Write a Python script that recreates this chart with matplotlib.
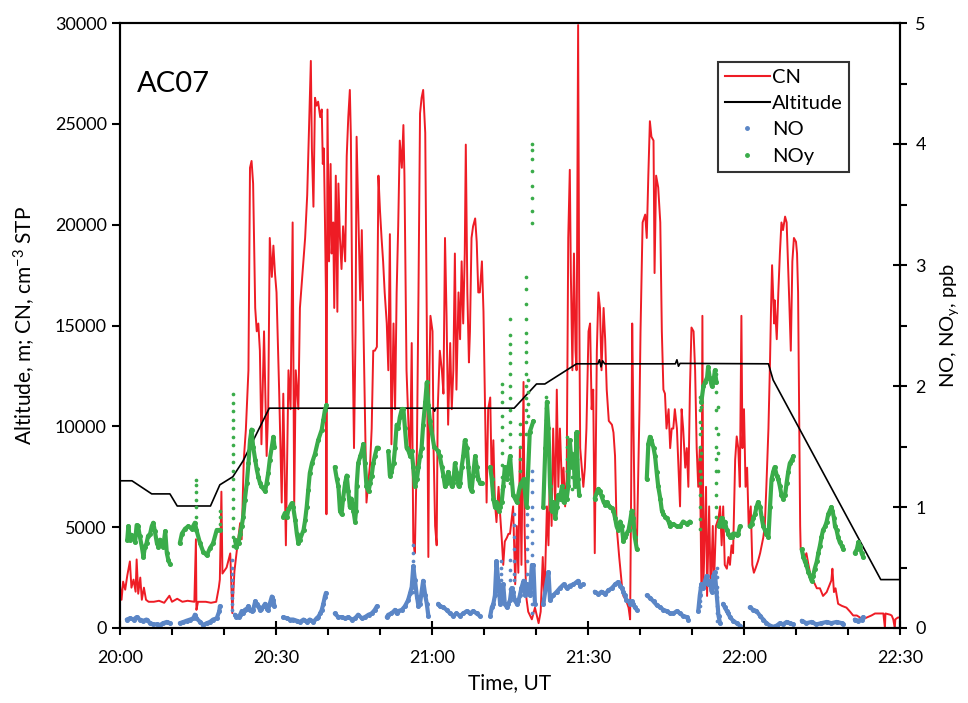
import numpy as np
import matplotlib
matplotlib.use("Agg")
import matplotlib.pyplot as plt
from matplotlib.lines import Line2D
from matplotlib.ticker import MultipleLocator

plt.rcParams['font.family'] = ['Lato', 'DejaVu Sans']
plt.rcParams['mathtext.fontset'] = 'custom'
plt.rcParams['mathtext.rm'] = 'Lato'

# time in minutes after 20:00 UT
tick_labels = ['20:00', '20:30', '21:00', '21:30', '22:00', '22:30']

# altitude, m
alt_t = [0, 2.3, 6.1, 9.6, 11.0, 17.4, 19.2, 21.7, 23.7, 28.7, 60.3, 60.5, 60.7, 75.8, 80.1, 81.7, 87.8,
         91.9, 92.2, 92.5, 92.8, 93.2, 106.8, 107.1, 107.4, 107.7, 124.7, 125.6, 146.3, 150]
alt_v = [7300, 7300, 6650, 6650, 6050, 6050, 7100, 7500, 8300, 10900, 10900, 10750, 10900, 10900, 12100, 12100, 13100,
         13100, 13300, 12950, 13250, 13100, 13100, 13300, 12980, 13120, 13100, 12300, 2400, 2400]

# CN, cm-3 STP
cn_t = [0.0, 0.3, 0.6, 1.0, 1.4, 1.9, 2.2, 2.6, 3.0, 3.2, 3.5, 3.9, 4.2, 4.6, 5.0, 5.5, 6.5, 7.5, 8.5, 9.5,
        10.0, 11.0, 12.0, 13.0, 14.3, 14.6, 14.7, 15.0, 16.5, 17.5, 18.5, 19.0, 19.2, 19.5, 19.7, 20.5, 21.2,
        21.6, 22.0, 22.4, 23.1, 23.4, 23.8, 24.2, 24.7, 25.0, 25.3, 25.6, 26.0, 26.3, 26.6, 26.9, 27.2, 27.7,
        28.2, 28.5, 28.8, 29.2, 29.5, 29.8, 30.1, 30.6, 31.1, 31.4, 31.9, 32.4, 32.8, 33.2, 33.5, 33.8, 34.3,
        34.6, 35.1, 35.6, 36.0, 36.3, 36.7,
        36.9, 37.2, 37.5, 37.8, 38.1, 38.5, 38.8, 39.0, 39.2, 39.4, 39.6, 39.7, 39.9, 40.2, 40.5, 40.7, 41.0,
        41.2, 41.5, 41.8, 42.0, 42.3, 42.6, 42.9, 43.3, 43.6, 43.9, 44.2, 44.4, 44.7, 45.0, 45.3, 45.5, 45.8,
        46.2, 46.5, 46.8, 47.1, 47.4, 47.8, 48.1, 48.4, 48.7, 49.0, 49.4, 49.7, 50.0, 50.3, 50.6, 50.9, 51.3,
        51.6, 51.9, 52.2, 52.6, 52.9, 53.2, 53.5, 53.8, 54.2, 54.5, 54.7, 54.9, 55.1, 55.5, 55.8, 56.1, 56.4,
        56.7, 57.1, 57.4, 57.7, 58.0, 58.3, 58.7, 59.0, 59.3, 59.5, 59.7, 60.1, 60.3, 60.6, 60.9, 61.1, 61.5,
        61.9, 62.2, 62.5, 62.8, 63.1, 63.5, 63.8, 64.1, 64.4, 64.7, 65.1, 65.4, 65.7, 66.0, 66.3, 66.5, 66.8,
        67.1, 67.3, 67.6, 67.9, 68.3, 68.6, 68.9, 69.2, 69.6, 69.9, 70.2, 70.5, 70.8, 71.2, 71.5, 71.8, 72.1,
        72.4, 72.8, 73.1, 73.4, 73.7, 74.0, 74.4, 74.7, 75.0,
        75.6, 76.0, 76.3, 76.6, 76.9, 77.2, 77.6, 77.8, 78.1, 78.5, 79.2, 79.8, 80.5, 80.9, 81.3, 81.6, 82.1,
        82.4, 82.7, 83.0, 83.3, 83.7, 84.0, 84.3, 84.6, 85.0, 85.3, 85.6, 85.9, 86.2, 86.5, 86.7, 87.0, 87.3,
        87.6, 87.8, 88.1, 88.3, 88.5, 88.8, 89.1, 89.4, 89.7, 90.1, 90.4, 90.7, 91.0, 91.3, 91.7, 92.0, 92.3,
        92.6, 93.0, 93.3, 93.6, 94.0, 94.6, 94.9, 95.2, 95.5, 96.0, 96.5, 96.8, 97.3, 97.8, 98.1, 98.3, 98.5,
        98.7, 99.0, 99.4, 99.9, 100.1, 100.5, 101.0, 101.3, 101.6, 101.9, 102.2, 102.6, 102.8, 103.1, 103.5,
        103.9, 104.2, 104.5, 104.8, 105.1, 105.5, 105.8, 106.1, 106.4, 106.7, 107.1, 107.4, 107.7, 108.0,
        108.3, 108.7, 109.0, 109.3, 109.6, 109.9, 110.3, 110.6, 110.9, 111.2,
        111.5, 111.8, 112.0, 112.2, 112.5, 112.7, 112.9, 113.3, 113.6, 114.0, 114.2, 114.6, 115.1, 115.4,
        115.7, 116.0, 116.3, 116.7, 117.0, 117.3, 117.6, 117.9, 118.3, 118.6, 118.9, 119.2, 119.5, 119.7,
        120.0, 120.3, 120.6, 120.9, 121.3, 121.6, 121.9, 122.2, 122.7, 123.1, 123.4, 123.7, 124.0, 124.3,
        124.7, 125.0, 125.2, 125.4, 125.8, 125.9, 126.3, 126.6, 126.9, 127.2, 127.5, 127.9, 128.2, 128.4,
        128.7, 129.0, 129.3, 129.6, 130.0, 130.2, 130.4, 130.6, 130.8, 130.9, 131.4, 131.7, 132.0, 132.4,
        132.7, 133.3, 134.0, 134.6, 135.2, 135.9, 136.5, 136.8, 137.0, 137.3, 137.6, 138.1, 138.8, 139.7,
        140.4, 141.0, 141.7, 142.3, 142.9, 143.6, 144.5, 145.2, 146.1, 146.8, 147.1, 147.2, 148.1, 148.4,
        148.7, 149.0, 149.1, 149.6, 150.0]
cn_v = [2100, 1400, 2300, 1900, 2600, 3300, 2000, 2400, 1800, 3400, 1700, 2500, 1400, 2000, 1400, 1300, 1300,
        1350, 1250, 1600, 1300, 1450, 1300, 1350, 1300, 4400, 900, 1300, 1300, 1250, 1300, 2000, 2400, 6760,
        2700, 3000, 3700, 740, 2800, 3700, 5200, 4400, 8330, 9820, 12780, 22820, 23160, 22040, 15870, 14710,
        15100, 13750, 9110, 14710, 8530, 10850, 19340, 17410, 18960, 17600, 16640, 11820, 6220, 11620, 4100,
        12780, 10850, 20110, 6030, 12780, 10850, 15870, 17600, 19340, 21460, 24360, 28120,
        23780, 20890, 26290, 25900, 26100, 25330, 25710, 23010, 23780, 20500, 16640, 5640, 25710, 18180,
        23010, 18570, 20110, 15870, 22430, 15680, 22040, 19340, 17800, 19920, 18180, 23400, 25330, 26680,
        24360, 14710, 8920, 14710, 24360, 20890, 16250, 19730, 15290, 10850, 6220, 7380, 8150, 9890, 13750,
        13750, 13940, 22430, 20690, 19340, 18180, 16640, 15100, 12780, 19530, 9110, 15100, 10850, 16640,
        19920, 24170, 22820, 24940, 22430, 17600, 12780, 9890, 8530, 14130, 4290, 3710, 8920, 16640, 25520,
        26290, 26680, 24550, 15100, 3520, 12780, 15480, 14710, 8920, 5060, 4100, 10850, 13750, 12780, 11620,
        19340, 15480, 10080, 14130, 10850, 12780, 18570, 11820, 16640, 14320, 18180, 15100, 18570, 23970,
        16640, 13170, 14710, 19340, 19920, 20310, 19150, 16640, 16640, 18180, 15680, 10850, 6220, 10850,
        11430, 7000, 9310, 6220, 5250, 7000, 5640, 4480, 3130, 4290, 4480, 4670, 4670,
        6030, 2170, 5060, 2740, 8920, 3130, 12200, 5060, 1590, 810, 430, 1010, 240, 810, 3520, 1200, 6030,
        4100, 7950, 5060, 9890, 6030, 11820, 7000, 9890, 7000, 7950, 6030, 7380, 19340, 22720, 17600, 12780,
        18570, 13750, 12780, 29900, 16640, 8920, 7950, 7000, 7950, 9890, 14710, 15100, 10850, 11820, 3710,
        13750, 16640, 15870, 12780, 15870, 14320, 11820, 10270, 10080, 9690, 8530, 5060, 3520, 2170, 1590,
        1390, 1010, 430, 7000, 15100, 10850, 5060, 4100, 10850, 14710, 20110, 20500, 19340, 22430, 25130,
        24360, 24170, 17600, 22430, 21850, 20110, 14710, 11820, 11620, 9890, 10850, 8920, 9890, 9890, 10850,
        9890, 7950, 6030, 10850, 9890, 7950, 8920, 7000, 11820, 14900, 14710, 12780, 8920, 7000,
        8920, 2170, 15480, 2170, 5060, 7000, 1590, 6030, 1780, 5060, 1970, 5060, 5450, 6030, 4100, 6030, 3130,
        2940, 3520, 3130, 4100, 3710, 8340, 9500, 8920, 7000, 15480, 8920, 10850, 7000, 7950, 5060, 6030,
        3130, 2740, 2940, 3320, 3710, 4100, 4480, 5060, 7000, 9890, 13170, 15870, 17990, 15100, 16250, 14320,
        16640, 18570, 20110, 19730, 20400, 20110, 18570, 16250, 13750, 18180, 19340, 19150, 18570, 16640,
        10850, 5060, 3900, 3710, 3520, 3710, 3130, 2740, 2360, 1970, 1970, 1590, 1780, 2170, 2360, 2940, 1780,
        1970, 1200, 1100, 1010, 810, 620, 620, 520, 430, 520, 620, 720, 720, 720, 0, 720, 660, 620, 430, 0,
        430, 520, 520]

# NOy, ppb (None = gap in the record)
noy_t = [1.4, 1.6, 1.9, 2.2, 2.6, 2.9, 3.2, 3.5, 3.8, 4.2, 4.5, 4.8, 5.1, 5.4, 5.8, 6.1, 6.4, 6.7, 7.1, 7.4,
         7.7, 8.0, 8.3, 8.7, 9.0, 9.3, 9.6, None,
         11.5, 11.9, 12.5, 13.1, 13.8, 14.4, 14.7, 15.4, 16.0, 16.7, 17.3, 17.9, 18.6, 19.2, None,
         22.1, 22.4, 22.8, 23.1, 23.4, 23.7, 24.0, 24.4, 24.7, 25.0, 25.3, 25.6, 26.0, 26.3, 26.6, 26.9, 27.2,
         27.9, 28.2, 28.5, 28.8, 29.2, 29.5, 29.7, None,
         31.4, 31.7, 32.1, 32.4, 33.0, 33.3, 33.7, 34.0, 34.3, 34.6, 35.3, 35.6, 35.9, 36.2, 36.5, 36.9, 37.5,
         38.1, 38.8, 39.1, 39.4, 39.7, None,
         41.3, 41.7, 42.0, 42.3, 42.6, 42.9, 43.3, 43.6, 43.9, 44.2, 44.5, 44.9, 45.2, 45.4, 45.5, 45.8, 46.2,
         46.5, 46.8, 47.1, 47.4, 47.8, 48.1, 48.4, 48.7, 49.0, 49.4, 49.7, None,
         51.6, 51.9, 52.2, 52.6, 52.9, 53.2, 53.5, 53.8, 54.2, 54.5, 54.8, 55.1, 55.5, 55.8, 56.1, 56.4, 56.7,
         57.1, 57.4, 57.7, 58.0, 58.3, 58.7, 59.0, 59.3, 59.6, 60.4,
         61.2, 61.5, 61.9, 62.2, 62.5, 62.8, 63.1, 63.5, 63.8, 64.1, 64.4, 64.7, 65.1, 65.4, 65.7, 66.0, 66.3,
         66.7, 67.0, 67.3, 67.6, 67.9, 68.3, 68.6, 68.9, 69.2, 69.6, None,
         71.2, 71.5, 71.8, 72.1, 72.4, 72.8, 73.1, 73.4, 73.7, 74.0, 74.4, 74.7, 75.0, 75.6, 76.3, 76.9, 77.6,
         78.2, 78.8, 79.5, None,
         81.4, 81.8, 82.1, 82.4, 82.7, 83.0, 83.3, 83.7, 84.0, 84.3, 84.6, 85.0, 85.3, 85.6, 85.9, 86.2, 86.5,
         86.9, 87.2, 87.5, 87.8, 88.1, 88.3, None,
         91.3, 91.7, 92.0, 92.3, 92.6, 93.0, 93.3, 93.6, 93.9, 94.2, 94.6, 94.9, 95.2, 95.5, 95.8, 96.2, 96.5,
         96.8, 97.1, 97.4, 97.8, 98.1, 98.4, 98.7, 99.0, 99.4, None,
         101.3, 101.6, 101.9, 102.2, 102.6, 102.9, 103.2, 103.5, 103.9, 104.2, 104.5, 104.8, 105.1, 105.5,
         105.8, 106.4, 107.1, 107.7, 108.3, 109.0, 109.6, None,
         111.8, 112.2, 112.5, 112.9, 113.1, 113.4, 113.8, 114.1, 114.4, 114.7, None,
         115.1, 115.4, 115.7, 116.0, 116.3, 116.7, 117.0, 117.3, 117.6, 117.9, 118.3, 118.6, 118.9, 119.2, None,
         121.1, 121.5, 121.8, 122.1, 122.4, 122.7, 123.1, 123.4, 123.7, 124.0, 124.3, 124.7, 125.0, 125.3,
         125.6, 125.9, 126.3, 126.6, 126.9, 127.2, 127.5, 127.9, 128.2, 128.5, 128.8, 129.2, 129.5, None,
         131.1, 131.4, 131.7, 132.0, 132.4, 132.7, 133.0, 133.3, 133.6, 134.0, 134.3, 134.6, 134.9, 135.2,
         135.6, 135.9, 136.2, 136.5, 136.8, 137.0, 137.3, 137.5, 137.8, 138.1, 138.4, 138.8, 139.1, None,
         141.3, 141.7, 142.0, 142.3, 142.6, 142.9]
noy_v = [0.73, 0.84, 0.73, 0.77, 0.76, 0.71, 0.85, 0.84, 0.76, 0.67, 0.59, 0.67, 0.70, 0.76, 0.78, 0.84, 0.87,
         0.80, 0.70, 0.67, 0.73, 0.70, 0.67, 0.80, 0.62, 0.56, 0.53, None,
         0.70, 0.78, 0.82, 0.84, 0.82, 0.87, 0.81, 0.70, 0.63, 0.60, 0.66, 0.70, 0.81, 0.81, None,
         0.73, 0.67, 0.70, 0.78, 0.84, 0.92, 1.06, 1.20, 1.36, 1.55, 1.64, 1.50, 1.39, 1.31, 1.25, 1.20, 1.17,
         1.13, 1.20, 1.28, 1.39, 1.50, 1.58, 1.50, None,
         0.92, 0.95, 0.92, 0.98, 1.03, 1.00, 0.89, 0.78, 0.70, 0.73, 0.81, 0.89, 1.00, 1.14, 1.28, 1.36, 1.44,
         1.55, 1.64, 1.72, 1.80, 1.84, None,
         1.33, 1.23, 1.17, 0.97, 0.94, 1.07, 1.20, 1.26, 1.13, 1.00, 1.07, 0.97, 0.88, 0.97, 1.17, 1.36, 1.42,
         1.46, 1.52, 1.36, 1.17, 1.13, 1.20, 1.26, 1.36, 1.42, 1.49, 1.49, None,
         1.46, 1.26, 1.29, 1.36, 1.49, 1.68, 1.65, 1.74, 1.81, 1.81, 1.65, 1.49, 1.46, 1.42, 1.46, 1.33, 1.17,
         1.23, 1.33, 1.42, 1.49, 1.68, 1.87, 2.03, 1.84, 1.71, 1.50,
         1.46, 1.42, 1.33, 1.26, 1.17, 1.20, 1.29, 1.23, 1.17, 1.20, 1.36, 1.29, 1.17, 1.20, 1.33, 1.42, 1.55,
         1.49, 1.33, 1.17, 1.13, 1.26, 1.42, 1.33, 1.23, 1.20, 1.20, None,
         1.33, 1.23, 1.07, 1.00, 1.04, 0.97, 1.00, 1.04, 1.17, 1.33, 1.23, 1.33, 1.42, 1.10, 1.04, 1.17, 1.23,
         1.00, 1.62, 1.71, None,
         1.00, 1.49, 1.87, 1.65, 1.17, 0.97, 1.04, 0.91, 1.00, 1.10, 1.07, 1.17, 1.04, 1.13, 1.07, 1.17, 1.55,
         1.33, 1.42, 1.17, 1.62, 1.23, 1.10, None,
         1.07, 1.12, 1.15, 1.13, 1.09, 1.04, 1.02, 1.04, 1.02, 1.00, 0.99, 0.97, 0.91, 0.84, 0.81, 0.88, 0.84,
         0.72, 0.75, 0.78, 0.81, 0.88, 0.97, 0.91, 0.75, 0.65, None,
         1.23, 1.52, 1.58, 1.55, 1.49, 1.42, 1.29, 1.17, 1.07, 0.97, 0.94, 0.92, 0.91, 0.88, 0.84, 0.86, 0.84,
         0.84, 0.88, 0.86, 0.88, None,
         1.87, 2.00, 2.03, 2.07, 2.16, 2.07, 2.00, 2.03, 2.13, 2.03, None,
         0.84, 0.88, 0.91, 0.84, 0.88, 0.81, 0.78, 0.75, 0.75, 0.78, 0.78, 0.77, 0.78, 0.84, None,
         0.84, 0.86, 0.91, 0.94, 1.00, 1.04, 1.00, 0.91, 0.84, 0.81, 0.78, 0.75, 1.00, 1.23, 1.29, 1.33, 1.26,
         1.23, 1.17, 1.10, 1.07, 1.10, 1.20, 1.29, 1.36, 1.39, 1.42, None,
         0.65, 0.59, 0.55, 0.52, 0.46, 0.43, 0.39, 0.43, 0.49, 0.55, 0.62, 0.68, 0.75, 0.81, 0.84, 0.88, 0.94,
         0.97, 1.00, 0.97, 0.91, 0.84, 0.81, 0.75, 0.71, 0.68, 0.65, None,
         0.62, 0.65, 0.71, 0.68, 0.62, 0.59]

# scattered NOy readings during plume crossings
noy_col_t = [14.6, 19.3, 21.8, 73.4, 75.0, 76.9, 78.0, 78.4, 79.2, 82.0, 86.0, 87.0, 87.8, 111.5, 111.8, 114.7, 115.0]
noy_col_v = [[0.92, 1.0, 1.06, 1.12, 1.18, 1.22],
             [0.86, 0.92, 0.97],
             [1.93, 1.86, 1.79, 1.72, 1.65, 1.58, 1.51, 1.44, 1.37, 1.30, 1.23, 1.15, 1.07, 0.99, 0.91, 0.83, 0.75, 0.68],
             [2.02, 1.95, 1.87, 1.75, 1.66, 1.55, 1.45, 1.35, 1.25, 1.15],
             [2.55, 2.42, 2.35, 2.27, 2.19, 2.1, 2.0, 1.9, 1.8, 1.7, 1.6, 1.5, 1.4, 1.3, 1.2],
             [1.69, 1.6, 1.5, 1.4, 1.3, 1.2],
             [2.9, 2.8, 2.68, 2.55, 2.44, 2.36, 2.28, 2.2, 2.1, 2.0, 1.9, 1.8, 1.7, 1.6],
             [2.05, 1.95, 1.85, 1.75],
             [4.0, 3.95, 3.88, 3.78, 3.65, 3.55, 3.45, 3.35],
             [1.91, 1.82, 1.72, 1.62, 1.52, 1.45],
             [1.58, 1.5, 1.4, 1.3, 1.2],
             [1.45, 1.35, 1.25, 1.15],
             [1.5, 1.4, 1.3, 1.2],
             [1.91, 1.8, 1.7, 1.6, 1.5, 1.4, 1.3, 1.2, 1.1, 1.0, 0.9, 0.82],
             [1.83, 1.65, 1.45, 1.25],
             [2.1, 1.95, 1.8, 1.65, 1.5, 1.4, 1.3, 1.2, 1.1, 1.0, 0.92],
             [1.83, 1.6, 1.45, 1.3]]

# NO, ppb
no_t = [1.3, 1.9, 2.6, 3.2, 3.8, 4.5, 5.1, 5.8, 6.4, 7.1, 7.7, 8.3, 9.0, 9.6, None,
        11.5, 12.2, 12.8, 13.5, 14.1, 14.4, 14.7, 15.4, 16.0, 16.7, 17.3, 17.9, 18.6, 19.1, 19.2, None,
        22.1, 22.4, 22.8, 23.1, 23.4, 23.7, 24.0, 24.4, 24.7, 25.0, 25.3, 25.6, 26.0, 26.3, 26.6, 26.9, 27.2,
        27.6, 27.9, 28.2, 28.5, 28.8, 29.2, 29.5, 29.7, None,
        31.4, 32.1, 32.7, 33.3, 34.0, 34.6, 35.3, 35.9, 36.5, 37.2, 37.8, 38.1, 38.5, 38.8, 39.1, 39.4, 39.6, None,
        41.3, 42.0, 42.6, 43.3, 43.9, 44.6, 45.2, 45.8, 46.5, 47.1, 47.8, 48.4, 49.0, 49.4, None,
        51.3, 51.6, 52.2, 52.9, 53.2, 53.5, 54.2, 54.8, 55.4, 55.8, 56.1, 56.4, 56.7, 57.1, 57.4, 57.7, 58.0,
        58.3, 58.7, 59.0, 59.3, None,
        61.2, 61.5, 62.2, 62.8, 63.5, 64.1, 64.7, 65.4, 66.0, 66.7, 67.3, 67.9, 68.6, 69.2, None,
        71.2, 71.5, 71.8, 72.1, 72.4, 72.8, 73.1, 73.4, 73.7, 74.0, 74.4, 74.7, 75.0, 75.3, 75.6, 75.9, 76.3,
        76.6, 76.9, 77.2, 77.6, 77.9, 78.2, 78.5, 78.8, 79.2, 79.5, 79.8, None,
        81.4, 82.1, 82.4, 82.7, 83.3, 84.0, 84.6, 85.3, 85.9, 86.5, 87.2, 87.8, 88.1, 88.5, 89.1, None,
        91.3, 92.0, 92.6, 93.3, 93.9, 94.6, 95.2, 95.8, 96.2, 96.5, 96.8, 97.1, 97.4, 97.8, 98.1, 98.4, 98.7,
        99.0, 99.4, None,
        101.3, 101.9, 102.6, 103.2, 103.9, 104.5, 105.1, 105.8, 106.4, 107.1, 107.7, 108.3, 109.0, 109.3, None,
        111.2, 111.5, 111.8, 112.2, 112.5, 112.8, 113.1, 113.4, 113.8, 114.1, 114.4, 114.7, 115.1, 115.4, None,
        116.0, 116.3, 116.7, 117.0, 117.3, 117.9, 118.6, 119.2, None,
        121.1, 121.8, 122.4, 123.1, 123.7, 124.3, 125.0, 125.6, 126.3, 126.9, 127.5, 128.2, 128.8, 129.5, None,
        131.1, 132.0, 133.0, 133.9, 134.9, 135.9, 136.8, 137.8, 138.8, 139.1, None,
        141.3, 141.9, 142.6, 142.9]
no_v = [0.07, 0.08, 0.07, 0.09, 0.07, 0.06, 0.07, 0.04, 0.03, 0.03, 0.025, 0.04, 0.05, 0.04, None,
        0.04, 0.05, 0.06, 0.07, 0.08, 0.11, 0.08, 0.05, 0.025, 0.04, 0.05, 0.07, 0.08, 0.14, 0.18, None,
        0.11, 0.09, 0.09, 0.11, 0.14, 0.12, 0.15, 0.16, 0.18, 0.15, 0.14, 0.15, 0.22, 0.20, 0.18, 0.15, 0.16,
        0.18, 0.20, 0.16, 0.15, 0.20, 0.26, 0.23, 0.18, None,
        0.09, 0.08, 0.07, 0.07, 0.06, 0.05, 0.07, 0.05, 0.07, 0.05, 0.08, 0.09, 0.12, 0.15, 0.20, 0.26, 0.29, None,
        0.12, 0.09, 0.09, 0.08, 0.09, 0.07, 0.08, 0.11, 0.08, 0.09, 0.11, 0.12, 0.15, 0.18, None,
        0.09, 0.11, 0.12, 0.15, 0.12, 0.14, 0.15, 0.18, 0.23, 0.29, 0.34, 0.51, 0.40, 0.26, 0.18, 0.20, 0.30,
        0.39, 0.27, 0.20, 0.10, None,
        0.20, 0.18, 0.17, 0.15, 0.12, 0.10, 0.12, 0.10, 0.12, 0.14, 0.12, 0.14, 0.12, 0.10, None,
        0.10, 0.17, 0.20, 0.27, 0.55, 0.36, 0.20, 0.23, 0.36, 0.20, 0.17, 0.20, 0.23, 0.33, 0.30, 0.23, 0.20,
        0.22, 0.27, 0.33, 0.39, 0.27, 0.36, 0.30, 0.27, 0.52, 0.52, 0.20, None,
        0.20, 0.39, 0.46, 0.23, 0.27, 0.30, 0.33, 0.36, 0.33, 0.35, 0.36, 0.38, 0.39, 0.35, 0.36, None,
        0.30, 0.28, 0.30, 0.28, 0.31, 0.33, 0.36, 0.38, 0.35, 0.33, 0.30, 0.27, 0.23, 0.22, 0.20, 0.22, 0.20,
        0.17, 0.15, None,
        0.27, 0.25, 0.22, 0.19, 0.17, 0.15, 0.14, 0.12, 0.12, 0.14, 0.12, 0.10, 0.09, 0.07, None,
        0.14, 0.27, 0.36, 0.33, 0.39, 0.43, 0.36, 0.39, 0.30, 0.43, 0.46, 0.30, 0.10, 0.04, None,
        0.20, 0.17, 0.14, 0.12, 0.09, 0.06, 0.04, 0.02, None,
        0.17, 0.15, 0.14, 0.10, 0.07, 0.04, 0.02, 0.01, 0.02, 0.04, 0.03, 0.05, 0.04, 0.03, None,
        0.06, 0.04, 0.05, 0.03, 0.04, 0.05, 0.04, 0.05, 0.04, 0.03, None,
        0.07, 0.06, 0.07, 0.09]

no_col_t = [21.6, 56.4, 73.2, 75.0, 75.8, 78.3, 79.2, 111.5, 114.8]
no_col_v = [[0.56, 0.5, 0.45, 0.4, 0.35, 0.3, 0.25, 0.2, 0.15],
            [0.69, 0.62, 0.55, 0.48, 0.42, 0.36, 0.3],
            [0.55, 0.5, 0.45, 0.4, 0.35],
            [0.56, 0.48, 0.4, 0.32],
            [0.94, 0.85, 0.75, 0.65, 0.55, 0.45, 0.4],
            [0.94, 0.85, 0.75, 0.65, 0.55, 0.45],
            [1.3, 1.22, 1.12, 1.0, 0.9, 0.8, 0.7, 0.6, 0.5, 0.4, 0.3, 0.2, 0.12],
            [0.34, 0.28, 0.22, 0.18],
            [0.5, 0.42, 0.34, 0.26, 0.18, 0.12, 0.06]]

red = '#ee1c25'
green = '#3aac4a'
blue = '#5b86c6'

fig = plt.figure(figsize=(9.68, 7.03), dpi=100)
ax = fig.add_axes([120 / 968, 1 - 628 / 703, 780 / 968, 605 / 703])

ax.plot(cn_t, cn_v, color=red, lw=1.4, zorder=2)
ax.plot(alt_t, alt_v, color='black', lw=1.2, zorder=3)

ax.set_xlim(0, 150)
ax.set_ylim(0, 30000)
ax.set_xticks(range(0, 151, 30))
ax.set_xticklabels(tick_labels)
ax.xaxis.set_minor_locator(MultipleLocator(10))
ax.set_yticks(range(0, 30001, 5000))
ax.tick_params(axis='x', which='major', direction='inout', length=10, width=1.5, pad=11, labelsize=13)
ax.tick_params(axis='x', which='minor', direction='out', length=5, width=1.5)
ax.tick_params(axis='y', direction='out', length=6, width=1.5, labelsize=13)
ax.set_xlabel('Time, UT', fontsize=15, labelpad=5)
ax.set_ylabel('Altitude, m; CN, cm$\\mathregular{^{-3}}$ STP', fontsize=15, labelpad=12)
for s in ax.spines.values():
    s.set_linewidth(1.5)

ax2 = ax.twinx()
ax2.set_ylim(0, 5)
ax2.plot(np.array(noy_t, dtype=float), np.array(noy_v, dtype=float), color=green, lw=3.0,
         marker='o', ms=2.6, solid_capstyle='round')
ax2.plot(np.array(no_t, dtype=float), np.array(no_v, dtype=float), color=blue, lw=3.0,
         marker='o', ms=2.6, solid_capstyle='round')
for t, vals in zip(noy_col_t, noy_col_v):
    ax2.scatter([t] * len(vals), vals, s=7, color=green, lw=0)
for t, vals in zip(no_col_t, no_col_v):
    ax2.scatter([t] * len(vals), vals, s=7, color=blue, lw=0)

ax2.yaxis.set_minor_locator(MultipleLocator(0.5))
ax2.tick_params(axis='y', which='major', direction='inout', length=10, width=1.5, labelsize=13, pad=6)
ax2.tick_params(axis='y', which='minor', direction='out', length=5, width=1.5)
ax2.set_ylabel('NO, NO$\\mathregular{_y}$, ppb', fontsize=14.5, labelpad=9)
for s in ax2.spines.values():
    s.set_linewidth(1.5)

ax.text(0.022, 0.9, 'AC07', transform=ax.transAxes, fontsize=21, va='center', ha='left')

handles = [Line2D([], [], color=red, lw=1.5),
           Line2D([], [], color='black', lw=1.5),
           Line2D([], [], color=blue, ls='none', marker='o', ms=2.5),
           Line2D([], [], color=green, ls='none', marker='o', ms=2.5)]
leg = ax2.legend(handles, ['CN', 'Altitude', 'NO', 'NOy'], loc='upper left',
                 bbox_to_anchor=(0.767, 0.9355), fontsize=14.5, frameon=True, fancybox=False,
                 handlelength=2.2, handletextpad=0.1, labelspacing=0.45, borderpad=0.35,
                 borderaxespad=0)
leg.get_frame().set_edgecolor('black')
leg.get_frame().set_linewidth(1.5)

fig.savefig('out.png', dpi=100)
